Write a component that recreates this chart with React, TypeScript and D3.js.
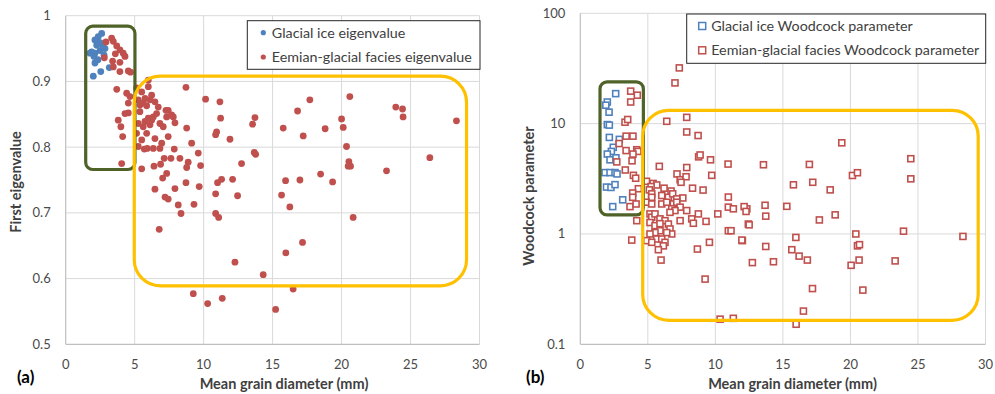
import React, { useEffect, useRef } from 'react';
import * as d3 from 'd3';

type Pt = [number, number];

// (a) first eigenvalue vs mean grain diameter (mm)
const glacialEigen: Pt[] = [
  [2.61, 0.973], [2.36, 0.968], [2.12, 0.963], [2.49, 0.959], [2.25, 0.955], [2.85, 0.95],
  [1.88, 0.945], [2.12, 0.943], [2.49, 0.947], [2.05, 0.938], [2.12, 0.928], [2.54, 0.915],
  [2.0, 0.908], [3.16, 0.921], [2.7, 0.954], [1.76, 0.943], [2.34, 0.933], [2.78, 0.94],
];

const eemianEigen: Pt[] = [
  [2.92, 0.96], [3.33, 0.966], [3.45, 0.961], [3.7, 0.954], [3.93, 0.948], [4.17, 0.943],
  [4.3, 0.938], [3.6, 0.942], [2.8, 0.936], [3.4, 0.931], [3.93, 0.929], [3.45, 0.922],
  [3.93, 0.915], [4.54, 0.916], [4.7, 0.914], [3.7, 0.888], [4.42, 0.882], [4.66, 0.877],
  [4.54, 0.867], [4.3, 0.851], [4.54, 0.852], [3.81, 0.841], [4.0, 0.831], [4.13, 0.816],
  [4.06, 0.775],
  [5.14, 0.89], [5.51, 0.884], [5.99, 0.902], [5.99, 0.892], [6.23, 0.879], [5.75, 0.874],
  [5.26, 0.872], [6.11, 0.872], [6.47, 0.869], [5.62, 0.867], [6.71, 0.861], [5.38, 0.864],
  [5.87, 0.863], [7.27, 0.856], [7.43, 0.856], [7.8, 0.846], [7.68, 0.849], [7.32, 0.846],
  [6.59, 0.851], [5.38, 0.854], [5.99, 0.844], [6.35, 0.846], [6.23, 0.841], [5.75, 0.839],
  [6.11, 0.834], [5.26, 0.836], [5.62, 0.831], [6.83, 0.836], [7.07, 0.831], [7.92, 0.837],
  [8.77, 0.829], [5.14, 0.821], [5.87, 0.821], [6.47, 0.813], [7.43, 0.816], [5.51, 0.811],
  [6.96, 0.806], [9.13, 0.806], [5.26, 0.801], [5.7, 0.797], [5.91, 0.798], [6.35, 0.798],
  [6.83, 0.798], [7.87, 0.797], [9.61, 0.791], [7.14, 0.783], [7.63, 0.783], [8.28, 0.783],
  [6.4, 0.771], [6.88, 0.774], [5.51, 0.767], [8.77, 0.769], [8.88, 0.777], [9.78, 0.772],
  [7.32, 0.76], [7.03, 0.753], [6.47, 0.736], [7.92, 0.737], [8.72, 0.746], [9.68, 0.74],
  [7.2, 0.724], [7.43, 0.721], [8.16, 0.712], [9.3, 0.713], [8.36, 0.699], [6.78, 0.675],
  [8.72, 0.891], [10.14, 0.873], [11.18, 0.869], [11.23, 0.844], [10.94, 0.823], [10.87, 0.819],
  [11.91, 0.812], [12.75, 0.775], [10.87, 0.729], [11.01, 0.746], [11.3, 0.751], [12.1, 0.751],
  [12.46, 0.726], [10.87, 0.699], [11.09, 0.693], [13.67, 0.792], [13.77, 0.789], [13.72, 0.845],
  [13.55, 0.835], [15.94, 0.749], [15.65, 0.727], [16.25, 0.709], [15.96, 0.639], [12.27, 0.625],
  [14.32, 0.606], [9.25, 0.577], [10.29, 0.562], [11.35, 0.57], [15.22, 0.553], [16.49, 0.584],
  [16.98, 0.75], [17.7, 0.872], [16.81, 0.855], [15.77, 0.829], [17.22, 0.817], [18.81, 0.828],
  [20.0, 0.843], [20.6, 0.877], [20.12, 0.83], [20.36, 0.801], [20.53, 0.778], [20.48, 0.771],
  [20.65, 0.771], [23.93, 0.861], [24.42, 0.858], [24.46, 0.846], [28.33, 0.84], [26.4, 0.784],
  [23.26, 0.764], [18.48, 0.759], [19.35, 0.747], [20.84, 0.693], [17.17, 0.655],
];

// (b) Woodcock parameter vs mean grain diameter (mm)
const glacialWoodcock: Pt[] = [
  [2.62, 18.7], [2.0, 15.7], [1.89, 14.7], [2.13, 12.7], [2.0, 9.8], [2.15, 9.7], [2.15, 7.5],
  [2.89, 7.2], [2.44, 6.1], [2.3, 5.6], [2.0, 5.3], [2.2, 4.7], [2.64, 4.9], [1.83, 3.6],
  [2.2, 3.6], [2.57, 3.6], [2.72, 3.5], [1.94, 2.66], [2.27, 2.64], [2.57, 2.8], [3.14, 2.04],
  [2.4, 1.77],
];

const eemianWoodcock: Pt[] = [
  [7.33, 32.0], [7.01, 23.4], [3.73, 19.7], [4.22, 18.1], [3.73, 15.7], [6.4, 10.5], [7.88, 11.4],
  [3.31, 10.3], [3.51, 10.9], [7.88, 8.4], [8.72, 7.8], [3.39, 7.7], [3.9, 7.7], [2.87, 6.6],
  [4.18, 5.8], [4.27, 5.6], [3.39, 5.7], [3.9, 5.3], [3.83, 4.6], [2.7, 4.5], [5.85, 4.1],
  [7.88, 4.0], [8.76, 5.0], [8.87, 5.2], [9.64, 4.7], [10.94, 4.3], [3.33, 3.8], [3.93, 3.4],
  [4.1, 3.2], [4.9, 3.0], [5.39, 2.87], [5.66, 2.78], [7.16, 3.5], [7.39, 3.1], [7.83, 3.3],
  [9.73, 3.4], [8.31, 2.6], [9.09, 2.5], [6.2, 2.6], [6.72, 2.45], [4.3, 2.57], [7.59, 2.12],
  [10.96, 2.16], [3.88, 2.35], [5.24, 2.69], [5.11, 2.51], [7.46, 2.94], [3.88, 2.15],
  [5.29, 2.31], [5.29, 2.15], [6.03, 2.23], [6.52, 2.15], [6.84, 2.31], [7.14, 2.08],
  [3.68, 1.77], [4.13, 1.87], [4.87, 1.94], [5.29, 1.87], [6.03, 1.87], [6.4, 1.94],
  [6.89, 1.87], [7.14, 1.94], [7.39, 1.75], [7.88, 1.63], [6.77, 1.69], [7.01, 1.63],
  [6.64, 1.57], [7.39, 1.32], [8.25, 1.37], [8.37, 1.25], [8.74, 1.52], [9.31, 1.3],
  [10.18, 1.52], [4.18, 1.32], [5.16, 1.52], [5.29, 1.42], [5.53, 1.52], [5.9, 1.37],
  [6.27, 1.32], [6.52, 1.23], [5.16, 1.27], [5.53, 1.19], [5.9, 1.24], [6.64, 1.11],
  [6.77, 1.0], [6.4, 1.03], [5.9, 1.07], [5.53, 1.03], [5.16, 1.0], [4.92, 0.87], [5.66, 0.9],
  [6.03, 0.9], [6.27, 0.84], [5.29, 0.84], [6.15, 0.78], [5.78, 0.72], [5.98, 0.58],
  [3.81, 0.88], [8.67, 0.73], [9.56, 0.84], [9.24, 0.39], [10.96, 1.75], [10.96, 1.07],
  [11.33, 1.69], [12.33, 1.69], [11.16, 1.07], [12.0, 0.87], [12.44, 1.23], [10.35, 0.169],
  [11.33, 0.172], [19.36, 6.7], [16.96, 4.27], [13.56, 4.24], [15.78, 2.79], [17.21, 2.94],
  [18.5, 2.51], [20.15, 3.39], [20.52, 3.59], [24.47, 4.81], [24.47, 3.16], [12.13, 1.77],
  [12.27, 1.6], [13.68, 1.82], [13.73, 1.45], [15.29, 1.78], [12.5, 1.21], [18.87, 1.49],
  [17.7, 1.34], [11.96, 0.88], [15.96, 0.93], [20.4, 1.0], [23.93, 1.06], [28.33, 0.95],
  [13.73, 0.77], [15.66, 0.72], [16.2, 0.63], [16.81, 0.58], [20.52, 0.78], [20.67, 0.8],
  [20.64, 0.58], [20.05, 0.52], [12.74, 0.55], [14.3, 0.56], [23.31, 0.57], [17.19, 0.32],
  [20.92, 0.31], [16.52, 0.2], [15.98, 0.152],
];

const diameterTicks = [0, 5, 10, 15, 20, 25, 30];
const eigenTicks = [0.5, 0.6, 0.7, 0.8, 0.9, 1];
const woodcockTicks = [0.1, 1, 10, 100];

// highlight boxes, in data units: [x0, x1], [yTop, yBottom]
const eigenGreenBox = { x: [1.45, 5.02], y: [0.984, 0.766] };
const eigenYellowBox = { x: [4.97, 29.06], y: [0.908, 0.589] };
const woodGreenBox = { x: [1.46, 4.67], y: [23.9, 1.49] };
const woodYellowBox = { x: [4.62, 29.46], y: [13.2, 0.165] };

const BLUE = '#4f81bd';
const RED = '#c0504d';
const GREEN = '#4f6228';
const YELLOW = '#ffc000';
const GRID = '#d9d9d9';
const AXIS = '#bfbfbf';
const FONT = "Lato, 'Open Sans', sans-serif";

const App = () => {
  const svgRef = useRef<SVGSVGElement>(null);

  useEffect(() => {
    const svg = d3.select(svgRef.current);
    svg.selectAll('*').remove();

    const drawPanel = (opts: any) => {
      const { x, y, yTicks, yFmt } = opts;
      const g = svg.append('g');
      const [x0, x1] = x.range();
      const [yb, yt] = y.range();

      // grid
      g.selectAll('line.vg')
        .data(diameterTicks.slice(1))
        .join('line')
        .attr('x1', (d: number) => x(d)).attr('x2', (d: number) => x(d))
        .attr('y1', yb).attr('y2', yt)
        .attr('stroke', GRID).attr('stroke-width', 1);
      g.selectAll('line.hg')
        .data(yTicks.slice(1))
        .join('line')
        .attr('x1', x0).attr('x2', x1)
        .attr('y1', (d: number) => y(d)).attr('y2', (d: number) => y(d))
        .attr('stroke', GRID).attr('stroke-width', 1);

      // axis lines
      g.append('line').attr('x1', x0).attr('x2', x0).attr('y1', yb).attr('y2', yt)
        .attr('stroke', AXIS).attr('stroke-width', 1.2);
      g.append('line').attr('x1', x0).attr('x2', x1).attr('y1', yb).attr('y2', yb)
        .attr('stroke', AXIS).attr('stroke-width', 1.2);

      // tick labels
      g.selectAll('text.xt')
        .data(diameterTicks)
        .join('text')
        .attr('x', (d: number) => x(d)).attr('y', yb + 25)
        .attr('text-anchor', 'middle')
        .attr('font-size', 13).attr('fill', '#4a4a4a')
        .text((d: number) => String(d));
      g.selectAll('text.yt')
        .data(yTicks)
        .join('text')
        .attr('x', x0 - 15).attr('y', (d: number) => y(d) + 4.5)
        .attr('text-anchor', 'end')
        .attr('font-size', 13).attr('fill', '#4a4a4a')
        .text(yFmt);

      // points
      opts.series.forEach((s: any) => {
        if (s.shape === 'circle') {
          g.append('g').selectAll('circle')
            .data(s.data)
            .join('circle')
            .attr('cx', (d: Pt) => x(d[0])).attr('cy', (d: Pt) => y(d[1]))
            .attr('r', 3.4).attr('fill', s.color);
        } else {
          g.append('g').selectAll('rect')
            .data(s.data)
            .join('rect')
            .attr('x', (d: Pt) => x(d[0]) - 3).attr('y', (d: Pt) => y(d[1]) - 3)
            .attr('width', 6).attr('height', 6)
            .attr('fill', 'white').attr('stroke', s.color).attr('stroke-width', 1.6);
        }
      });

      // highlight boxes
      opts.boxes.forEach((b: any) => {
        g.append('rect')
          .attr('x', x(b.x[0])).attr('y', y(b.y[0]))
          .attr('width', x(b.x[1]) - x(b.x[0]))
          .attr('height', y(b.y[1]) - y(b.y[0]))
          .attr('rx', b.r).attr('ry', b.r)
          .attr('fill', 'none').attr('stroke', b.color).attr('stroke-width', 3.2);
      });

      // legend
      const L = opts.legend;
      const lg = g.append('g');
      lg.append('rect')
        .attr('x', L.x).attr('y', L.y).attr('width', L.w).attr('height', L.h)
        .attr('fill', 'white').attr('stroke', '#262626').attr('stroke-width', 1);
      opts.series.forEach((s: any, i: number) => {
        const cy = L.y + 12 + i * 24.3;
        if (s.shape === 'circle') {
          lg.append('circle').attr('cx', L.x + 16).attr('cy', cy).attr('r', 2.6).attr('fill', s.color);
        } else {
          lg.append('rect').attr('x', L.x + 12).attr('y', cy - 3.5).attr('width', 7).attr('height', 7)
            .attr('fill', 'white').attr('stroke', s.color).attr('stroke-width', 1.5);
        }
        lg.append('text')
          .attr('x', L.x + 24.5).attr('y', cy + 5)
          .attr('font-size', 14.3).attr('fill', '#404040')
          .text(s.name);
      });

      // titles
      g.append('text')
        .attr('x', opts.xTitleX).attr('y', 389)
        .attr('text-anchor', 'middle')
        .attr('font-size', 14.5).attr('font-weight', 'bold').attr('fill', '#404040')
        .text('Mean grain diameter (mm)');
      g.append('text')
        .attr('transform', `translate(${opts.yTitleX},${opts.yTitleY}) rotate(-90)`)
        .attr('text-anchor', 'middle')
        .attr('font-size', 14.5).attr('font-weight', 'bold').attr('fill', '#404040')
        .text(opts.yTitle);
      g.append('text')
        .attr('x', opts.tagX).attr('y', 383)
        .attr('font-size', 17).attr('font-weight', 'bold').attr('fill', '#000')
        .text(opts.tag);
    };

    drawPanel({
      x: d3.scaleLinear().domain([0, 30]).range([65.7, 479.5]),
      y: d3.scaleLinear().domain([0.5, 1]).range([344.3, 15.7]),
      yTicks: eigenTicks,
      yFmt: (d: number) => String(d),
      series: [
        { name: 'Glacial ice eigenvalue', data: glacialEigen, color: BLUE, shape: 'circle' },
        { name: 'Eemian-glacial facies eigenvalue', data: eemianEigen, color: RED, shape: 'circle' },
      ],
      boxes: [
        { ...eigenGreenBox, color: GREEN, r: 7 },
        { ...eigenYellowBox, color: YELLOW, r: 26 },
      ],
      legend: { x: 247.3, y: 20.7, w: 232.7, h: 48.6 },
      xTitleX: 284,
      yTitle: 'First eigenvalue',
      yTitleX: 21,
      yTitleY: 182,
      tag: '(a)',
      tagX: 17,
    });

    drawPanel({
      x: d3.scaleLinear().domain([0, 30]).range([580.3, 985.5]),
      y: d3.scaleLog().domain([0.1, 100]).range([344.3, 13.3]),
      yTicks: woodcockTicks,
      yFmt: (d: number) => String(d),
      series: [
        { name: 'Glacial ice Woodcock parameter', data: glacialWoodcock, color: BLUE, shape: 'square' },
        { name: 'Eemian-glacial facies Woodcock parameter', data: eemianWoodcock, color: RED, shape: 'square' },
      ],
      boxes: [
        { ...woodGreenBox, color: GREEN, r: 7 },
        { ...woodYellowBox, color: YELLOW, r: 26 },
      ],
      legend: { x: 686.7, y: 14, w: 299, h: 49.3 },
      xTitleX: 792.5,
      yTitle: 'Woodcock parameter',
      yTitleX: 534,
      yTitleY: 196,
      tag: '(b)',
      tagX: 526,
    });
  }, []);

  return (
    <svg
      ref={svgRef}
      width={995}
      height={394}
      style={{ position: 'absolute', left: 0, top: 0, background: 'white', fontFamily: FONT }}
    />
  );
};

export default App;
